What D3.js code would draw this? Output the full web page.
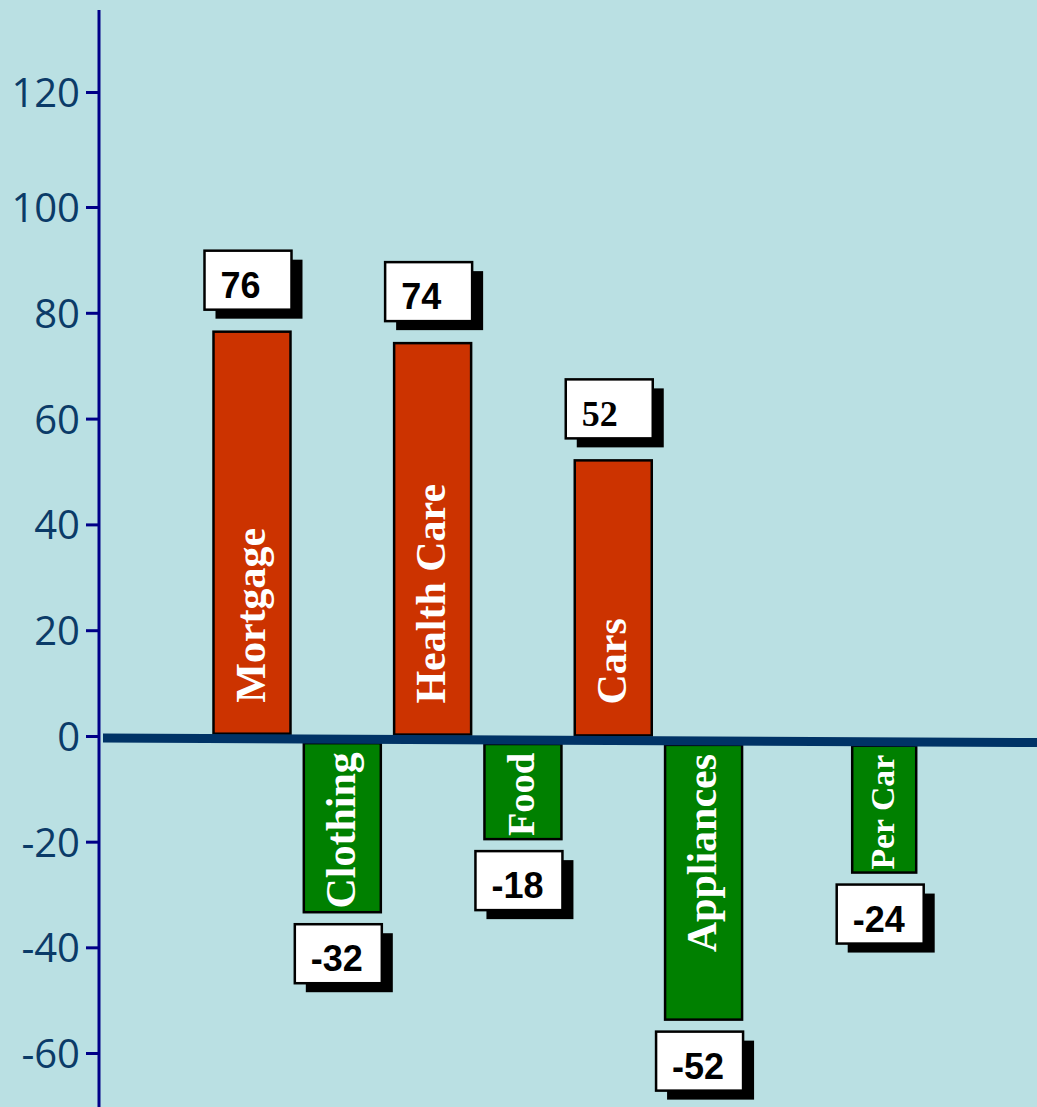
<!DOCTYPE html>
<html>
<head>
<meta charset="utf-8">
<script src="https://cdn.jsdelivr.net/npm/d3@7"></script>
<style>
  body{margin:0;background:#bae0e3;}
  svg{display:block;}
</style>
</head>
<body>
<div id="chart"></div>
<script>
// -----------------------------------------------------------------------------
// DATA
// -----------------------------------------------------------------------------
var categories = ['Mortgage','Clothing','Health Care','Food','Cars','Appliances','Per Car'];
var values     = [76,-32,74,-18,52,-52,-24];
var yticks     = [-60,-40,-20,0,20,40,60,80,100,120];

var W = 1037, H = 1107;
var colors = {
  bg:'#bae0e3', pos:'#cc3300', neg:'#008000', zero:'#003366', axis:'#000088', tick:'#0b3b68'
};
var serif = '"Liberation Serif","Times New Roman",serif';
var sans  = '"Liberation Sans",Arial,sans-serif';

// one empty slot sits between Appliances and Per Car
var slots = categories.slice(0,6).concat(['_gap'],categories.slice(6));
var x = d3.scaleBand().domain(slots).range([213.5,922.7]).paddingInner(0.1475).paddingOuter(0);
var y = d3.scaleLinear().domain([-60,0,100,120]).range([1053,736,207,92]);

var rows = categories.map(function(c,i){return {cat:c,v:values[i]};});

function cx(d){ return x(d.cat)+x.bandwidth()/2; }
function bw(d){ return d.cat==='Per Car' ? 64 : x.bandwidth(); }
// zero line runs slightly downhill to the right
function zy(px){ return y(0)+2+(px-103)*4.5/934; }
function bar_len(d){ return Math.abs(y(0)-y(d.v)); }
function bar_top(d){
  return d.v>=0 ? zy(cx(d))-5-bar_len(d) : zy(cx(d))+4;
}

// -----------------------------------------------------------------------------
// MAIN
// -----------------------------------------------------------------------------
var svg = d3.select('#chart').append('svg').attr('width',W).attr('height',H);
svg.append('rect').attr('width',W).attr('height',H).attr('fill',colors.bg);

// y axis
var axis = svg.append('g').attr('transform','translate(99,0)')
  .call(d3.axisLeft(y).tickValues(yticks).tickSize(13).tickPadding(6)
    .tickFormat(function(d){return String(d);}));
axis.select('.domain').remove();
axis.selectAll('.tick line').attr('stroke',colors.axis).attr('stroke-width',3);
axis.selectAll('.tick text').attr('fill',colors.tick).attr('dy','0.36em')
  .style('font-family','"Open Sans","Noto Sans",sans-serif').style('font-size','40px');
svg.append('line').attr('x1',99).attr('x2',99).attr('y1',10).attr('y2',H)
  .attr('stroke',colors.axis).attr('stroke-width',3);

// bars
var bars = svg.append('g').selectAll('.bar').data(rows).enter()
  .append('g').attr('class','bar');
bars.append('rect')
  .attr('x',function(d){return cx(d)-bw(d)/2;})
  .attr('y',bar_top)
  .attr('width',bw)
  .attr('height',bar_len)
  .attr('fill',function(d){return d.v>=0 ? colors.pos : colors.neg;})
  .attr('stroke','#000').attr('stroke-width',2.5);
bars.append('text')
  .attr('transform',function(d){
    var ty = d.v>=0 ? bar_top(d)+bar_len(d)-31 : bar_top(d)+9;
    return 'translate('+cx(d)+','+ty+') rotate(-90)';
  })
  .attr('text-anchor',function(d){return d.v>=0 ? 'start' : 'end';})
  .attr('dy','0.3em')
  .attr('fill','#fff')
  .style('font-family',serif).style('font-weight','bold').style('font-size','42px')
  .text(function(d){return d.cat;})
  .each(function(d){
    var avail = bar_len(d)-12, len = this.getComputedTextLength();
    if (len>avail) d3.select(this).style('font-size',(42*avail/len)+'px');
  });

// zero line
svg.append('line')
  .attr('x1',103).attr('y1',zy(103)).attr('x2',W).attr('y2',zy(W))
  .attr('stroke',colors.zero).attr('stroke-width',9);

// value boxes with drop shadow
var bw_box = 87, bh_box = 59;
var labs = svg.append('g').selectAll('.lab').data(rows).enter()
  .append('g').attr('class','lab')
  .attr('transform',function(d){
    var bx = cx(d)-4-bw_box/2;
    var by = d.v>=0 ? bar_top(d)-22-bh_box : bar_top(d)+bar_len(d)+12;
    return 'translate('+bx+','+by+')';
  });
labs.append('rect').attr('x',11).attr('y',9).attr('width',bw_box).attr('height',bh_box)
  .attr('fill','#000');
labs.append('rect').attr('width',bw_box).attr('height',bh_box)
  .attr('fill','#fff').attr('stroke','#000').attr('stroke-width',2.5);
labs.append('text').attr('x',16).attr('y',47)
  .attr('fill','#000')
  .style('font-family',function(d){return d.cat==='Cars' ? serif : sans;})
  .style('font-weight','bold').style('font-size','36px')
  .text(function(d){return String(d.v);});
</script>
</body>
</html>
